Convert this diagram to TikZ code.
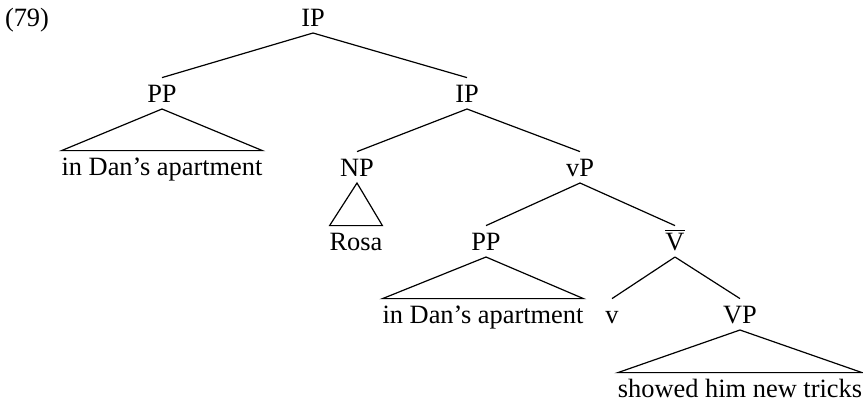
\documentclass[tikz,border=0pt]{standalone}
\usepackage{fontspec}
\setmainfont{Liberation Serif}
\usepackage{tikz}
\usetikzlibrary{positioning}

\begin{document}
\begin{tikzpicture}[
  x=0.5pt, y=-0.5pt,
  font=\fontsize{13.2}{15}\selectfont,
  cat/.style={anchor=base, inner sep=0pt, outer xsep=0pt, outer ysep=3.5pt,
              text height=8.7pt, text depth=0pt},
  branch/.style={draw=black, line width=0.6pt},
]
  \useasboundingbox (0,0) rectangle (863,403);

  % Example number
  \node[cat, anchor=base west] (exnum) at (5,26) {(79)};

  % Top IP and its daughters
  \node[cat] (ipTop) at (313,26) {IP};
  \node[cat] (ppA) at (162,102) {PP};
  \node[cat] (ipLow) at (467,102) {IP};

  % Fronted PP
  \node[cat] (danA) at (162,175) {in Dan's apartment};

  % Subject and vP
  \node[cat] (np) at (357,176) {NP};
  \node[cat] (vp) at (580,176) {vP};
  \node[cat] (rosa) at (356,250) {Rosa};

  % Inside vP
  \node[cat] (ppB) at (486,250) {PP};
  \node[cat] (vbar) at (675,250) {$\overline{\mbox{V}}$};
  \node[cat] (danB) at (483,323) {in Dan's apartment};
  \node[cat] (vHead) at (612,323) {v};
  \node[cat] (vpLow) at (740,323) {VP};
  \node[cat] (tricks) at (740,397) {showed him new tricks};

  % Branches
  \draw[branch] (ipTop.south) -- (ppA.north);
  \draw[branch] (ipTop.south) -- (ipLow.north);
  \draw[branch] (ipLow.south) -- (np.north);
  \draw[branch] (ipLow.south) -- (vp.north);
  \draw[branch] (vp.south) -- (ppB.north);
  \draw[branch] (vp.south) -- (vbar.north);
  \draw[branch] (vbar.south) -- (vHead.north);
  \draw[branch] (vbar.south) -- (vpLow.north);

  % Roofs
  \draw[branch] (ppA.south) -- (danA.north west) -- (danA.north east) -- cycle;
  \draw[branch] (np.south) -- (rosa.north west) -- (rosa.north east) -- cycle;
  \draw[branch] (ppB.south) -- (danB.north west) -- (danB.north east) -- cycle;
  \draw[branch] (vpLow.south) -- (tricks.north west) -- (tricks.north east) -- cycle;
\end{tikzpicture}
\end{document}
